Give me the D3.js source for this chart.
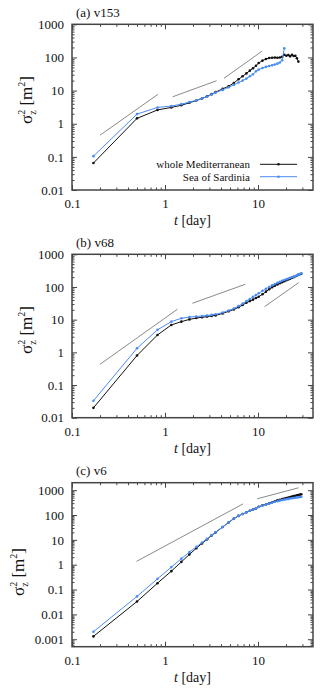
<!doctype html>
<html>
<head>
<script src="https://d3js.org/d3.v7.min.js"></script>
<style>
  body { margin: 0; background: #fff; }
  svg text { font-family: "Liberation Serif", "Times New Roman", "DejaVu Serif"; fill: #111; }
</style>
</head>
<body>
<svg width="320" height="695"></svg>
<script>
// time of each sample (day), every 8 h early on, daily later
var days = [0.17, 0.5, 0.83, 1.17, 1.5, 1.83, 2.17, 2.5, 2.83, 3.17, 3.5, 4.17, 4.83, 5.5,
  6.17, 6.83, 7.5, 8.17, 8.83, 9.5, 10.17, 11.17, 12.17, 13.17, 14.17, 15.17, 16.17,
  17.17, 18.17, 19.17, 20.17, 21.17, 22.17, 23.17, 24.17, 25.17, 26.17, 27.17, 28.17, 29.17];

// (a) v153
var medA = [0.065, 1.45, 2.6, 3.1, 3.6, 4.3, 5.0, 5.8, 6.7, 7.8, 9.0, 11.3, 13.5, 17,
  22, 27, 33, 40, 47, 56, 68, 80, 90, 96, 98, 99, 98,
  100, 104, 120, 112, 118, 108, 120, 110, 112, 95, 75, null, null];
var sarA = [0.105, 1.95, 3.1, 3.4, 3.9, 4.5, 5.1, 5.8, 6.6, 7.6, 8.7, 10.5, 12.5, 15,
  17.5, 20, 23, 27, 31, 38, 43, 48, 52, 55, 58, 61, 65,
  70, 82, 188, null, null, null, null, null, null, null, null, null, null];

// (b) v68
var medB = [0.02, 0.8, 3.4, 6.9, 8.7, 10.2, 11.2, 11.8, 12.4, 13, 13.5, 15.5, 18, 20.5,
  24, 28, 33, 37, 41, 46, 50, 60, 72, 85, 98, 110, 120,
  130, 140, 150, 160, 170, 180, 190, 200, 212, 225, 235, 245, 255];
var sarB = [0.033, 1.33, 4.9, 8.7, 11, 12, 12.5, 12.9, 13.4, 14, 14.6, 16.5, 19, 22,
  26, 31, 37, 43, 50, 57, 64, 76, 88, 100, 112, 124, 135,
  145, 155, 164, 173, 182, 190, 198, 207, 217, 228, 238, 250, 262];

// (c) v6
var medC = [0.0013, 0.033, 0.18, 0.55, 1.3, 2.6, 4.6, 7.2, 10.5, 15, 20, 33, 50, 72,
  92, 110, 128, 148, 165, 185, 215, 245, 265, 295, 325, 360, 390,
  410, 435, 460, 485, 510, 535, 560, 580, 600, 620, 640, 660, 680];
var sarC = [0.002, 0.053, 0.27, 0.8, 1.75, 3.2, 5.2, 7.8, 11, 15.5, 20.5, 33, 50, 72,
  92, 110, 128, 148, 165, 185, 212, 240, 265, 290, 315, 340, 360,
  380, 398, 415, 430, 445, 460, 475, 487, 498, 508, 518, 528, 538];

// slope guides, [t, value] end points
var guideA = [[[0.2, 0.45], [0.84, 7.7]], [[1.21, 6.5], [3.58, 19.8]], [[4.3, 23.4], [11.1, 156]]];
var guideB = [[[0.2, 0.43], [1.36, 20.8]], [[1.97, 31.7], [7.3, 121]], [[11.76, 25], [27.3, 135]]];
var guideC = [[[0.494, 1.36], [6.9, 280]], [[9.8, 450], [27.3, 1250]]];

var titles = ["(a) v153", "(b) v68", "(c) v6"];
var xTicks = [0.1, 1, 10];
var yTicksAB = [0.01, 0.1, 1, 10, 100, 1000];
var yTicksC = [0.001, 0.01, 0.1, 1, 10, 100, 1000];
var seriesNames = ["whole Mediterranean", "Sea of Sardinia"];

var black = "#111", blue = "#4a8cf5";
var serif = '"Liberation Serif", "Times New Roman", "DejaVu Serif"';

var panels = [
  { title: titles[0], med: medA, sar: sarA, guides: guideA, yTicks: yTicksAB, yDom: [0.01, 1000],
    top: 24.3, h: 165.7, labX: 32, labY: 100, legend: true },
  { title: titles[1], med: medB, sar: sarB, guides: guideB, yTicks: yTicksAB, yDom: [0.01, 1000],
    top: 254.3, h: 163.4, labX: 32, labY: 330, legend: false },
  { title: titles[2], med: medC, sar: sarC, guides: guideC, yTicks: yTicksC, yDom: [0.0005, 2000],
    top: 482.7, h: 164, labX: 24, labY: 572, legend: false }
];

var svg = d3.select("svg");
var left = 72, w = 241;

function minors(lo, hi) {
  var out = [];
  for (var e = Math.floor(Math.log10(lo)); e < Math.ceil(Math.log10(hi)); e++) {
    for (var k = 2; k < 10; k++) {
      var v = k * Math.pow(10, e);
      if (v > lo && v < hi) out.push(v);
    }
  }
  return out;
}

panels.forEach(function (p) {
  var x = d3.scaleLog().domain([0.1, 39]).range([0, w]);
  var y = d3.scaleLog().domain(p.yDom).range([p.h, 0]);
  var g = svg.append("g").attr("transform", "translate(" + left + "," + p.top + ")");

  var fmt = function (d) { return String(d); };
  var xMin = minors(0.1, 39), yMin = minors(p.yDom[0], p.yDom[1]);

  function style(a) {
    a.attr("font-family", null).attr("font-size", null);
    a.select(".domain").remove();
    a.selectAll("line").attr("stroke", "#444").attr("stroke-width", 1);
    a.selectAll("text").style("font-family", serif).style("font-size", "13px").attr("fill", "#111");
  }

  // bottom / top
  g.append("g").attr("transform", "translate(0," + p.h + ")")
    .call(d3.axisBottom(x).tickValues(xTicks).tickFormat(fmt).tickSize(-5).tickPadding(9)).call(style);
  g.append("g").attr("transform", "translate(0," + p.h + ")")
    .call(d3.axisBottom(x).tickValues(xMin).tickFormat("").tickSize(-2.5)).call(style);
  g.append("g").call(d3.axisTop(x).tickValues(xTicks).tickFormat("").tickSize(-5)).call(style);
  g.append("g").call(d3.axisTop(x).tickValues(xMin).tickFormat("").tickSize(-2.5)).call(style);
  // left / right
  g.append("g").call(d3.axisLeft(y).tickValues(p.yTicks).tickFormat(fmt).tickSize(-5).tickPadding(8)).call(style);
  g.append("g").call(d3.axisLeft(y).tickValues(yMin).tickFormat("").tickSize(-2.5)).call(style);
  g.append("g").attr("transform", "translate(" + w + ",0)")
    .call(d3.axisRight(y).tickValues(p.yTicks).tickFormat("").tickSize(-5)).call(style);
  g.append("g").attr("transform", "translate(" + w + ",0)")
    .call(d3.axisRight(y).tickValues(yMin).tickFormat("").tickSize(-2.5)).call(style);

  g.append("rect").attr("width", w).attr("height", p.h)
    .attr("fill", "none").attr("stroke", "#444").attr("stroke-width", 1.5);

  // guides
  g.selectAll(".guide").data(p.guides).enter().append("line")
    .attr("x1", function (d) { return x(d[0][0]); }).attr("y1", function (d) { return y(d[0][1]); })
    .attr("x2", function (d) { return x(d[1][0]); }).attr("y2", function (d) { return y(d[1][1]); })
    .attr("stroke", "#8a8a8a").attr("stroke-width", 1);

  var line = d3.line()
    .defined(function (d) { return d[1] != null; })
    .x(function (d) { return x(d[0]); })
    .y(function (d) { return y(d[1]); });

  [[p.med, black], [p.sar, blue]].forEach(function (s) {
    var pts = days.map(function (t, i) { return [t, s[0][i]]; });
    g.append("path").datum(pts).attr("d", line)
      .attr("fill", "none").attr("stroke", s[1]).attr("stroke-width", 1);
    g.selectAll(null).data(pts.filter(function (d) { return d[1] != null; })).enter().append("circle")
      .attr("cx", function (d) { return x(d[0]); }).attr("cy", function (d) { return y(d[1]); })
      .attr("r", 1.3).attr("fill", s[1]);
  });

  // title
  svg.append("text").attr("x", 76).attr("y", p.top - 7.5)
    .style("font-size", "13px").text(p.title);

  // x label
  var xl = svg.append("text").attr("x", left + w / 2).attr("y", p.top + p.h + 35)
    .attr("text-anchor", "middle").style("font-size", "14px");
  xl.append("tspan").style("font-style", "italic").text("t");
  xl.append("tspan").text(" [day]");

  // y label
  var yl = svg.append("text").attr("text-anchor", "middle")
    .attr("transform", "translate(" + p.labX + "," + p.labY + ")rotate(-90)")
    .style("font-size", "17px");
  yl.append("tspan").text("σ");
  yl.append("tspan").attr("dy", 4).style("font-size", "10px").text("z");
  yl.append("tspan").attr("dx", -4.5).attr("dy", -11).style("font-size", "10px").text("2");
  yl.append("tspan").attr("dy", 7).text(" [m");
  yl.append("tspan").attr("dy", -7).style("font-size", "10px").text("2");
  yl.append("tspan").attr("dy", 7).text("]");

  if (p.legend) {
    [black, blue].forEach(function (c, i) {
      var ly = 140 + i * 12.4;
      g.append("text").attr("x", 178).attr("y", ly + 4).attr("text-anchor", "end")
        .style("font-size", "11px").text(seriesNames[i]);
      g.append("line").attr("x1", 188).attr("x2", 225).attr("y1", ly).attr("y2", ly)
        .attr("stroke", c).attr("stroke-width", 1);
      g.append("circle").attr("cx", 206.5).attr("cy", ly).attr("r", 1.3).attr("fill", c);
    });
  }
});
</script>
</body>
</html>
